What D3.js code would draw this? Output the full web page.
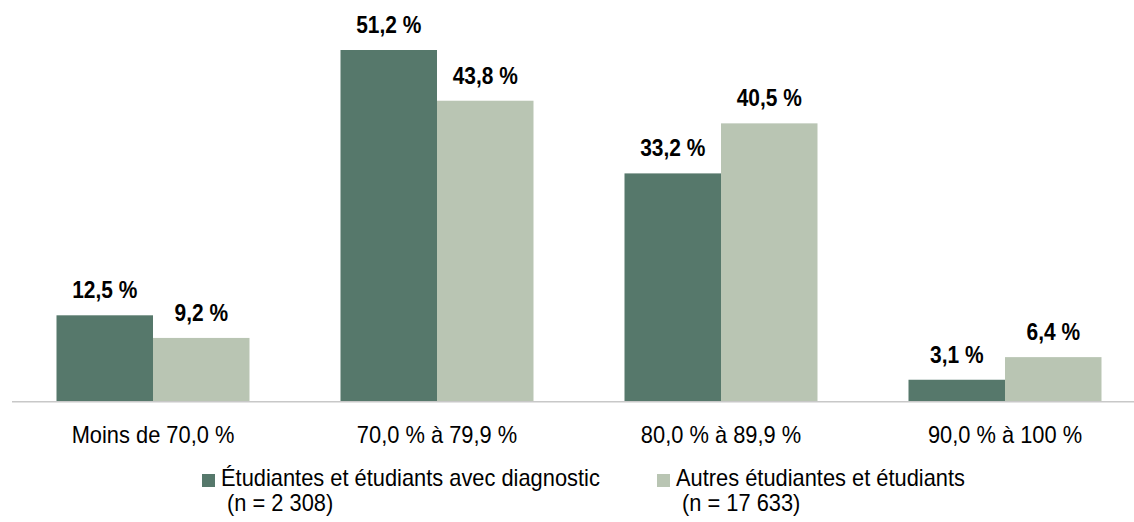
<!DOCTYPE html>
<html>
<head>
<meta charset="utf-8">
<script src="https://cdn.jsdelivr.net/npm/d3@7"></script>
<style>
  body { margin: 0; background: #fff; }
  svg text { font-family: "Liberation Sans", Arial, sans-serif; fill: #000; }
</style>
</head>
<body>
<svg id="chart" width="1134" height="522"></svg>
<script>
// categories and series
var categories = ["Moins de 70,0 %", "70,0 % à 79,9 %", "80,0 % à 89,9 %", "90,0 % à 100 %"];
var seriesNames = ["Étudiantes et étudiants avec diagnostic", "Autres étudiantes et étudiants"];
var seriesCounts = ["(n = 2 308)", "(n = 17 633)"];
var diagnostic = [12.5, 51.2, 33.2, 3.1];
var autres = [9.2, 43.8, 40.5, 6.4];
var colors = ["#56786b", "#b9c5b3"];

var svg = d3.select("#chart");
var baseY = 401;
// squeeze Liberation Sans to look like the narrow font of the original
var narrow = 0.95;
var narrowBold = 0.91;

// x scale for categories
var x0 = d3.scaleBand()
    .domain(categories)
    .range([11, 1147]);

var x1 = d3.scaleBand()
    .domain([0, 1])
    .range([x0.bandwidth() / 2 - 96.5, x0.bandwidth() / 2 + 96.5]);

var y = d3.scaleLinear()
    .domain([0, 51.2])
    .range([baseY, 50]);

var data = categories.map(function(c, i) {
    return { cat: c, values: [diagnostic[i], autres[i]] };
});

var groups = svg.selectAll("g.group")
    .data(data)
    .enter()
    .append("g")
    .attr("class", "group")
    .attr("transform", function(d) { return "translate(" + x0(d.cat) + ",0)"; });

groups.selectAll("rect")
    .data(function(d) { return d.values; })
    .enter()
    .append("rect")
    .attr("x", function(d, i) { return x1(i); })
    .attr("y", function(d) { return y(d); })
    .attr("width", x1.bandwidth())
    .attr("height", function(d) { return baseY - y(d); })
    .style("fill", function(d, i) { return colors[i]; });

// value labels
groups.selectAll("text.val")
    .data(function(d) { return d.values; })
    .enter()
    .append("text")
    .attr("class", "val")
    .attr("transform", function(d, i) {
        return "translate(" + (x1(i) + x1.bandwidth() / 2) + "," + (y(d) - 17) + ") scale(" + narrowBold + ",1)";
    })
    .attr("text-anchor", "middle")
    .style("font-size", "23px")
    .style("font-weight", "bold")
    .text(function(d) { return d3.format(".1f")(d).replace(".", ",") + " %"; });

// axis line
svg.append("line")
    .attr("x1", 12)
    .attr("x2", 1134)
    .attr("y1", baseY + 0.75)
    .attr("y2", baseY + 0.75)
    .style("stroke", "#c8c8c8")
    .style("stroke-width", 1.5);

// category labels
svg.selectAll("text.cat")
    .data(categories)
    .enter()
    .append("text")
    .attr("class", "cat")
    .attr("transform", function(d) {
        return "translate(" + (x0(d) + x0.bandwidth() / 2) + ",443) scale(" + narrow + ",1)";
    })
    .attr("text-anchor", "middle")
    .style("font-size", "23px")
    .text(function(d) { return d; });

// legend
var legendX = [202, 657];
var legend = svg.selectAll("g.legend")
    .data(seriesNames)
    .enter()
    .append("g")
    .attr("class", "legend")
    .attr("transform", function(d, i) { return "translate(" + legendX[i] + ",0)"; });

legend.append("rect")
    .attr("x", 0)
    .attr("y", 474)
    .attr("width", 13)
    .attr("height", 13)
    .style("fill", function(d, i) { return colors[i]; });

legend.append("text")
    .attr("transform", "translate(19,486) scale(" + narrow + ",1)")
    .style("font-size", "23px")
    .text(function(d) { return d; });

legend.append("text")
    .attr("transform", "translate(25,511) scale(" + narrow + ",1)")
    .style("font-size", "23px")
    .text(function(d, i) { return seriesCounts[i]; });
</script>
</body>
</html>
